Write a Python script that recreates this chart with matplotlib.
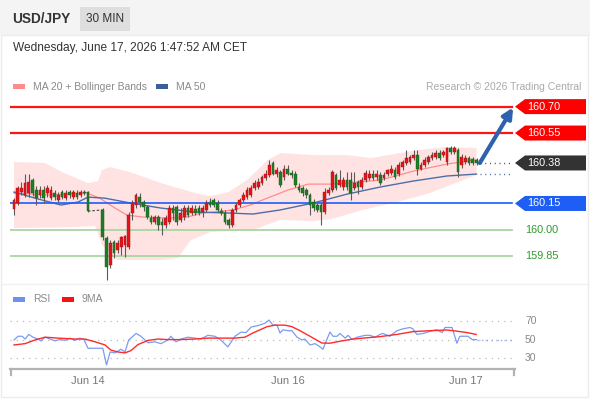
import matplotlib
matplotlib.use("Agg")
import matplotlib.pyplot as plt
from matplotlib.patches import Rectangle, Polygon, FancyArrowPatch
from matplotlib.transforms import blended_transform_factory
import numpy as np

plt.rcParams['font.family'] = ['Liberation Sans', 'DejaVu Sans']

# ---------------- data (30-min candles, USD/JPY) ----------------
opens = [160.118, 160.152, 160.215, 160.198, 160.209, 160.283, 160.226, 160.198, 160.226, 160.209,
         160.180, 160.209, 160.169, 160.215, 160.180, 160.215, 160.186, 160.209, 160.198, 160.215,
         160.215,
         160.113, 159.954, 159.800, 159.931, 159.885, 159.902, 159.914, 159.902, 160.096, 160.141,
         160.186, 160.158, 160.130, 160.067, 160.044, 160.073, 160.044, 160.027, 160.044, 160.124,
         160.130, 160.056, 160.073, 160.124, 160.096, 160.118, 160.124, 160.101, 160.113, 160.158,
         160.169, 160.152, 160.107, 160.096, 160.056, 160.027, 160.113, 160.141, 160.169, 160.186,
         160.198, 160.238, 160.243, 160.266, 160.294, 160.311, 160.380, 160.317, 160.328, 160.300,
         160.345, 160.323, 160.317, 160.243, 160.238, 160.226, 160.198, 160.158, 160.141, 160.141,
         160.101, 160.209, 160.226, 160.311, 160.255, 160.243, 160.283, 160.283, 160.238, 160.272,
         160.243, 160.283, 160.294, 160.317, 160.300, 160.311, 160.294, 160.317, 160.323, 160.340,
         160.317, 160.357, 160.380, 160.385, 160.408, 160.425, 160.345, 160.368, 160.385, 160.408,
         160.414, 160.436, 160.425, 160.385, 160.465, 160.442, 160.453, 160.368, 160.385, 160.408,
         160.402, 160.397]
highs = [160.180, 160.249, 160.272, 160.317, 160.317, 160.294, 160.249, 160.249, 160.249, 160.255,
         160.249, 160.226, 160.215, 160.226, 160.226, 160.226, 160.226, 160.226, 160.226, 160.226,
         160.221,
         160.124, 159.965, 159.942, 159.942, 159.942, 159.965, 159.971, 160.101, 160.169, 160.209,
         160.209, 160.169, 160.141, 160.084, 160.084, 160.084, 160.067, 160.084, 160.141, 160.141,
         160.141, 160.124, 160.141, 160.141, 160.141, 160.141, 160.141, 160.141, 160.169, 160.180,
         160.180, 160.169, 160.124, 160.113, 160.067, 160.124, 160.158, 160.180, 160.215, 160.243,
         160.255, 160.283, 160.294, 160.311, 160.340, 160.397, 160.391, 160.357, 160.340, 160.368,
         160.368, 160.340, 160.334, 160.266, 160.249, 160.238, 160.209, 160.175, 160.152, 160.152,
         160.238, 160.243, 160.340, 160.323, 160.340, 160.300, 160.328, 160.328, 160.328, 160.283,
         160.300, 160.340, 160.340, 160.340, 160.340, 160.328, 160.328, 160.345, 160.368, 160.357,
         160.385, 160.397, 160.453, 160.425, 160.453, 160.453, 160.385, 160.414, 160.425, 160.442,
         160.453, 160.453, 160.453, 160.470, 160.476, 160.476, 160.465, 160.431, 160.425, 160.420,
         160.414, 160.408]
lows = [160.084, 160.141, 160.198, 160.186, 160.186, 160.192, 160.141, 160.180, 160.152, 160.186,
        160.169, 160.169, 160.158, 160.175, 160.169, 160.180, 160.175, 160.175, 160.186, 160.198,
        160.101,
        159.942, 159.715, 159.783, 159.840, 159.868, 159.857, 159.846, 159.891, 160.056, 160.124,
        160.130, 160.107, 160.061, 160.033, 160.033, 159.999, 159.971, 160.010, 160.033, 160.056,
        160.027, 160.044, 160.056, 160.073, 160.084, 160.084, 160.084, 160.073, 160.101, 160.130,
        160.130, 160.101, 160.084, 160.033, 160.010, 160.016, 160.101, 160.130, 160.158, 160.175,
        160.186, 160.226, 160.232, 160.255, 160.283, 160.300, 160.311, 160.300, 160.243, 160.283,
        160.311, 160.294, 160.243, 160.215, 160.192, 160.180, 160.084, 160.107, 160.101, 160.027,
        160.090, 160.198, 160.215, 160.226, 160.243, 160.226, 160.226, 160.169, 160.226, 160.204,
        160.232, 160.272, 160.283, 160.283, 160.283, 160.255, 160.283, 160.306, 160.311, 160.289,
        160.306, 160.340, 160.368, 160.374, 160.397, 160.311, 160.340, 160.357, 160.374, 160.397,
        160.402, 160.397, 160.414, 160.368, 160.431, 160.431, 160.300, 160.351, 160.374, 160.368,
        160.368, 160.368]
closes = [160.169, 160.238, 160.238, 160.266, 160.272, 160.209, 160.180, 160.226, 160.180, 160.238,
          160.226, 160.186, 160.198, 160.186, 160.209, 160.198, 160.215, 160.186, 160.215, 160.209,
          160.107,
          159.959, 159.789, 159.925, 159.868, 159.925, 159.959, 159.965, 160.084, 160.152, 160.198,
          160.158, 160.130, 160.073, 160.044, 160.073, 160.027, 160.027, 160.067, 160.124, 160.096,
          160.044, 160.096, 160.124, 160.084, 160.124, 160.096, 160.096, 160.124, 160.152, 160.141,
          160.141, 160.113, 160.096, 160.044, 160.027, 160.113, 160.141, 160.169, 160.198, 160.226,
          160.238, 160.266, 160.272, 160.300, 160.317, 160.368, 160.317, 160.340, 160.255, 160.345,
          160.317, 160.311, 160.255, 160.226, 160.209, 160.198, 160.141, 160.124, 160.113, 160.101,
          160.215, 160.226, 160.328, 160.238, 160.283, 160.283, 160.243, 160.209, 160.266, 160.243,
          160.283, 160.323, 160.317, 160.294, 160.317, 160.266, 160.311, 160.340, 160.345, 160.300,
          160.368, 160.385, 160.408, 160.414, 160.425, 160.345, 160.368, 160.397, 160.414, 160.425,
          160.436, 160.408, 160.442, 160.465, 160.442, 160.465, 160.328, 160.414, 160.408, 160.380,
          160.380, 160.380]
last_before_weekend = 20      # index of last candle before the weekend gap
weekend_slots = 3             # empty half-hour slots shown for the gap

# Bollinger bands / moving averages (read at sample positions, slot units)
bb_upper_pos = [0, 8.4, 13, 20, 22.7, 23.8, 26, 31.4, 39.7, 49, 53, 58, 63, 68.6, 72, 81, 90, 96.5, 109, 116.5, 125]
bb_upper = [160.385, 160.380, 160.328, 160.266, 160.277, 160.340, 160.357, 160.328, 160.266, 160.209, 160.192,
            160.215, 160.283, 160.397, 160.436, 160.425, 160.425, 160.408, 160.453, 160.470, 160.465]
bb_lower_pos = [0, 16.5, 21.9, 23.8, 28.1, 39.7, 44.3, 47.8, 53.2, 64.6, 71.9, 80.8, 85.7, 94.3, 103.5, 112.4, 121.4, 125]
bb_lower = [160.010, 160.016, 160.022, 159.914, 159.829, 159.829, 159.840, 159.942, 159.988, 159.999, 160.056,
            160.050, 160.061, 160.113, 160.158, 160.209, 160.283, 160.311]
ma20_pos = [0, 9.7, 19.7, 23.2, 27.3, 30.5, 34.9, 41.4, 46.8, 51.1, 59.2, 63.8, 68.4, 74, 79.5, 85.7, 90, 99, 108, 117, 125]
ma20 = [160.209, 160.198, 160.209, 160.180, 160.124, 160.084, 160.073, 160.067, 160.073, 160.096, 160.113,
        160.141, 160.180, 160.226, 160.260, 160.260, 160.266, 160.283, 160.334, 160.374, 160.397]
ma50_pos = [0, 5.7, 12.7, 17.3, 20, 24.6, 31.6, 39.7, 48.9, 57.8, 64.6, 71.9, 80.8, 90, 98.9, 107.8, 117, 125]
ma50 = [160.215, 160.180, 160.141, 160.158, 160.186, 160.180, 160.152, 160.124, 160.101, 160.096, 160.090,
        160.113, 160.152, 160.203, 160.243, 160.277, 160.306, 160.317]

# key levels
level_values = [160.70, 160.55, 160.15, 160.00, 159.85]
level_labels = ["160.70", "160.55", "160.15", "160.00", "159.85"]
last_price = 160.38
target_price = 160.70

# RSI (14) and its 9-period MA
rsi_pos = [0, 1.1, 2.2, 3, 4, 5.1, 6.5, 7.3, 8.4, 9.7, 11.1, 12.4, 13.8, 15.1, 16.5, 17.8, 18.9, 20, 24,
           25, 26, 27.3, 28.9, 30, 31, 33, 34.3, 36.2, 38.1, 39.7, 41.6, 42.4, 43.8, 45.1, 47, 48.9, 50.5,
           52.4, 54.3, 55.9, 57.8, 59.7, 61.4, 62.7, 64.1, 65.9, 67.8, 68.9, 70, 71.1, 71.9, 72.7, 74.1,
           75.1, 76.5, 77.8, 78.6, 80, 81.4, 82.7, 83.5, 84.6, 85.4, 86.2, 87.3, 88.1, 89.5, 90.3, 91.4,
           92.7, 94.9, 96.2, 97.6, 98.9, 99.7, 101.6, 103.5, 105.1, 107, 107.8, 108.9, 110.5, 113, 114.3,
           115.7, 116.5, 118.4, 119.7, 120.5, 122.7, 123.8, 125]
rsi = [50, 54, 54, 51, 56, 53, 51, 49, 53, 51, 49, 50.5, 49.5, 52, 49.5, 52, 50.5, 41, 41,
       23, 37, 36, 40, 37, 50, 57, 54, 47, 48, 46, 50, 54, 48, 51, 53, 52, 51,
       55, 54, 50, 42.5, 54, 58.5, 58, 64, 65.5, 68, 71.5, 66, 66, 57.5, 61, 60,
       60, 53, 50, 51, 44.6, 46, 42.5, 40, 51, 58.6, 54, 54, 57, 52, 55, 50.4,
       53, 55, 55, 53, 56, 57, 54, 60, 62, 63.5, 62, 56, 57, 60, 61,
       58, 63.5, 63.5, 46.5, 54, 54, 50.4, 50.4]
ma9_pos = [0, 3, 5.7, 8.4, 11.9, 16.5, 19.2, 21.9, 24.6, 26.2, 28.1, 30, 31.6, 33.5, 36.2, 38.9, 41.6, 45.1,
           48.9, 52.4, 55.9, 59.7, 62.4, 64.6, 68.4, 70.5, 73.2, 75.1, 77.3, 80, 83.2, 85.4, 88.1, 91.6,
           98.9, 103.5, 107.8, 112.4, 117, 119.7, 122.4, 124.9]
ma9 = [44.6, 46, 50, 53, 52, 51, 51, 48, 44.6, 39, 37, 36, 38.5, 45, 49.5, 51, 50.4, 50.4,
       51, 52, 52, 52, 53, 57.6, 64.4, 66, 66, 64.4, 60, 54, 46.7, 46.5, 48.6, 51,
       53.6, 56, 59, 60, 60.8, 59.5, 58, 56]
rsi_levels = [70, 50, 30]
date_tick_pos = [20, 74, 122]
date_tick_labels = ["Jun 14", "Jun 16", "Jun 17"]

# ---------------- figure ----------------
W, H = 590, 400
fig = plt.figure(figsize=(W / 100, H / 100), dpi=100)
fig.patch.set_facecolor("white")

bg = fig.add_axes([0, 0, 1, 1], zorder=0)
bg.set_xlim(0, W)
bg.set_ylim(H, 0)
bg.axis("off")
bg.add_patch(Rectangle((0, 0), W, 35, facecolor="#f4f4f4", edgecolor="none"))
bg.add_patch(Rectangle((80, 7), 50, 24, facecolor="#dedede", edgecolor="none"))
bg.add_patch(Rectangle((1, 35), 587, 362, facecolor="none", edgecolor="#ececec", lw=1))
bg.plot([1, 588], [284, 284], color="#f0f0f0", lw=1)
bg.text(12, 19, "USD/JPY", fontsize=9.8, fontweight="bold", color="#333333", va="center")
bg.text(105, 19, "30 MIN", fontsize=8.5, color="#333333", va="center", ha="center")
bg.text(13, 48, "Wednesday, June 17, 2026 1:47:52 AM CET", fontsize=8.6, color="#333333", va="center")
# legends
bg.add_patch(Rectangle((13, 84), 12, 5, facecolor="#ff8a8a", edgecolor="none"))
bg.text(33, 86.5, "MA 20 + Bollinger Bands", fontsize=7.5, color="#8a8a8a", va="center")
bg.add_patch(Rectangle((156, 84), 12, 5, facecolor="#3c5e9c", edgecolor="none"))
bg.text(176, 86.5, "MA 50", fontsize=7.5, color="#8a8a8a", va="center")
bg.text(581, 86.5, "Research \u00a9 2026 Trading Central", fontsize=7.5, color="#aaaaaa", va="center", ha="right")
bg.add_patch(Rectangle((13, 297), 12, 5, facecolor="#7090ee", edgecolor="none"))
bg.text(33, 299.5, "RSI", fontsize=7.5, color="#8a8a8a", va="center")
bg.add_patch(Rectangle((62, 297), 12, 5, facecolor="#ff1010", edgecolor="none"))
bg.text(82, 299.5, "9MA", fontsize=7.5, color="#8a8a8a", va="center")

# ---------------- price panel ----------------
px_left, px_right = 10, 515
ax_w = (px_right - px_left) / W
top_px, bot_px = 95, 282
ax = fig.add_axes([px_left / W, 1 - bot_px / H, ax_w, (bot_px - top_px) / H], zorder=1)
ax.patch.set_alpha(0)
for s in ax.spines.values():
    s.set_visible(False)
ax.set_xticks([])
ax.set_yticks([])
slot_w = 3.7
xlim = ((px_left - 14) / slot_w, (px_right - 14) / slot_w)
ax.set_xlim(*xlim)
ax.set_ylim(159.704, 160.766)

n = len(closes)
slots = np.array([i if i <= last_before_weekend else i + weekend_slots for i in range(n)], dtype=float)

# bollinger band fill
poly_x = np.concatenate([bb_upper_pos, bb_lower_pos[::-1]])
poly_y = np.concatenate([bb_upper, bb_lower[::-1]])
ax.fill(poly_x, poly_y, color="#ffe3e3", lw=0, zorder=1)
ax.plot(ma20_pos, ma20, color="#ff8c8c", lw=0.9, zorder=2)
ax.plot(ma50_pos, ma50, color="#4b6ea6", lw=1.0, zorder=2)

# levels
x_end_frac = (512 - px_left) / (px_right - px_left)
level_styles = [("#ff1414", 1.6), ("#ff1414", 1.6), ("#1a5cff", 1.2), ("#a9d6a0", 1.3), ("#a9d6a0", 1.3)]
for v, (c, lw) in zip(level_values, level_styles):
    ax.axhline(v, xmin=0, xmax=x_end_frac, color=c, lw=lw, zorder=2)

# candles
ax.vlines(slots, lows, highs, color="#5a5a5a", lw=0.8, zorder=3)
o = np.array(opens); c = np.array(closes)
up = c >= o
bottoms = np.minimum(o, c)
heights = np.maximum(np.abs(c - o), 0.006)
ax.bar(slots[up], heights[up], bottom=bottoms[up], width=0.75, color="#e3151b",
       edgecolor="#a01010", lw=0.3, zorder=4)
ax.bar(slots[~up], heights[~up], bottom=bottoms[~up], width=0.75, color="#1e7d26",
       edgecolor="#145a18", lw=0.3, zorder=4)

# weekend gap
gap_x = [slots[last_before_weekend], slots[last_before_weekend + 1]]
ax.plot(gap_x, [closes[last_before_weekend], opens[last_before_weekend + 1]], color="#555555",
        lw=0.9, ls=(0, (2, 1.5)), zorder=3)

# dotted extensions
x_ext0 = slots[-1] + 0.9
x_ext1 = xlim[0] + (xlim[1] - xlim[0]) * x_end_frac
ax.plot([x_ext0, x_ext1], [last_price, last_price], color="#555555", lw=1, ls=(0, (0.8, 2.6)), zorder=3)
ax.plot([x_ext0, x_ext1], [ma50[-1], ma50[-1]], color="#4b6ea6", lw=1, ls=(0, (0.8, 2.6)), zorder=3)

# arrow to target
arr = FancyArrowPatch((x_ext0, last_price), (x_ext1 + 0.3, target_price - 0.005),
                      arrowstyle="-|>", mutation_scale=15, lw=3, color="#2e62ae", zorder=6,
                      shrinkA=0, shrinkB=0, clip_on=False)
ax.add_patch(arr)

# right-hand tags
trans = blended_transform_factory(ax.transAxes, ax.transData)
ylo, yhi = ax.get_ylim()
half_h = 7.5 * (yhi - ylo) / (bot_px - top_px)
def fx(px):
    return (px - px_left) / (px_right - px_left)
tag_specs = [(level_values[0], level_labels[0], "#ff0000"),
             (level_values[1], level_labels[1], "#ff0000"),
             (last_price, f"{last_price:.2f}", "#333333"),
             (level_values[2], level_labels[2], "#1f5ef5")]
for v, lab, col in tag_specs:
    pts = [(fx(515), v), (fx(525), v + half_h), (fx(586), v + half_h), (fx(586), v - half_h), (fx(525), v - half_h)]
    ax.add_patch(Polygon(pts, closed=True, transform=trans, facecolor=col, edgecolor="none", clip_on=False, zorder=7))
    ax.text(fx(527), v, lab, transform=trans, color="white", fontsize=7.8, va="center", ha="left",
            clip_on=False, zorder=8)
for idx in (3, 4):
    ax.text(fx(525), level_values[idx], level_labels[idx], transform=trans, color="#2e9a2e", fontsize=7.8,
            va="center", ha="left", clip_on=False, zorder=8)

# ---------------- RSI panel ----------------
rtop, rbot = 305, 369
axr = fig.add_axes([px_left / W, 1 - rbot / H, ax_w, (rbot - rtop) / H], zorder=1)
axr.patch.set_alpha(0)
axr.set_xlim(*xlim)
axr.set_ylim(18.6, 87.8)
for k, s in axr.spines.items():
    s.set_visible(k == "bottom")
axr.spines["bottom"].set_color("#b3b3b3")
axr.spines["bottom"].set_linewidth(1.6)
axr.set_yticks([])
for lv in rsi_levels:
    axr.axhline(lv, xmin=0, xmax=x_end_frac, color="#bbbbbb", lw=0.9, ls=(0, (1, 4)), zorder=1)
    axr.text(fx(525), lv, str(lv), transform=blended_transform_factory(axr.transAxes, axr.transData),
             color="#888888", fontsize=7.4, va="center", ha="left", clip_on=False)
axr.plot(rsi_pos, rsi, color="#7b9cf0", lw=0.9, zorder=3)
axr.plot(ma9_pos, ma9, color="#ff2a2a", lw=1.0, zorder=4)
axr.plot([rsi_pos[-1], x_ext1], [rsi[-1], rsi[-1]], color="#7b9cf0", lw=1, ls=(0, (0.8, 2.6)), zorder=3)
for xa in (0.002, 0.998):
    axr.plot([xa, xa], [0, -6 / (rbot - rtop)], transform=axr.transAxes, color="#b3b3b3", lw=1.6, clip_on=False)
axr.set_xticks(date_tick_pos)
axr.set_xticklabels(date_tick_labels)
axr.tick_params(axis="x", length=0, pad=5, labelsize=8, labelcolor="#777777")

fig.savefig("out.png", dpi=100, facecolor="white")
